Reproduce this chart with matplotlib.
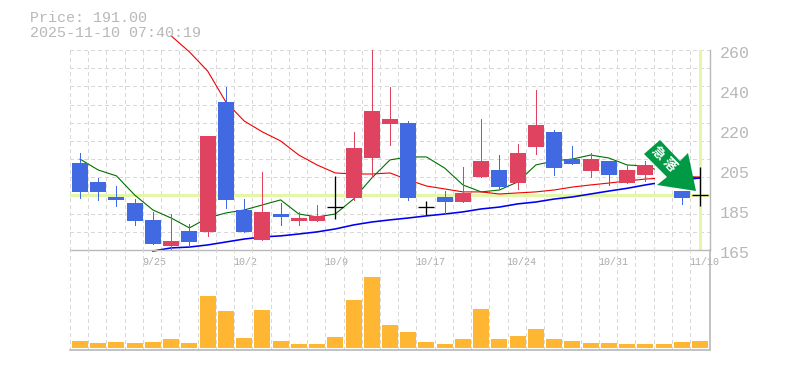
import numpy as np
import matplotlib
matplotlib.use('Agg')
import matplotlib.pyplot as plt
from matplotlib.patches import Polygon

# ローソク足 (始値/終値の上端・下端, 高値, 安値, 色)
body_top = [206.3, 197.3, 190.2, 187.3, 179.3, 169.3, 174.0, 219.2, 235.3, 184.0, 183.1, 182.1,
            180.2, 181.2, 185.4, 213.5, 231.0, 227.2, 225.3, 185.4, 190.2, 192.1, 207.3, 203.0,
            211.1, 224.4, 221.0, 208.2, 208.2, 207.3, 203.0, 205.4, 202.0, 193.0, 191.1]
body_bot = [192.6, 192.6, 188.8, 178.8, 167.9, 166.9, 168.8, 173.6, 188.8, 173.6, 169.8, 180.7,
            178.8, 178.8, 185.4, 189.7, 208.7, 224.9, 189.7, 185.4, 187.8, 187.8, 199.7, 194.9,
            196.8, 213.9, 203.9, 205.9, 202.5, 200.6, 196.8, 200.6, 198.0, 189.7, 191.1]
high = [211.1, 199.2, 195.4, 189.2, 183.1, 182.1, 177.4, 219.2, 242.4, 189.2, 202.0, 187.3,
        183.1, 186.4, 200.2, 221.0, 260.0, 242.4, 226.3, 188.3, 193.0, 204.4, 227.2, 210.1,
        215.4, 241.0, 222.0, 214.4, 211.1, 207.3, 205.4, 207.3, 202.0, 193.0, 204.4]
low = [189.7, 188.8, 185.9, 176.9, 167.9, 165.0, 166.9, 171.7, 185.0, 173.6, 169.8, 176.9,
       176.9, 178.8, 179.7, 188.8, 199.7, 214.9, 188.8, 181.6, 182.6, 187.8, 199.7, 194.0,
       194.0, 210.6, 200.6, 205.9, 199.7, 195.9, 196.8, 197.8, 198.0, 186.9, 185.9]
kind = list('bbbbbrbrbbrbrrkrrrbkbrrbrrbbrbrrbbk')

# 移動平均
ma_green = [208.2, 203.0, 200.2, 191.1, 184.0, 180.2, 175.5, 180.2, 182.6, 184.0, 186.4, 188.8,
            182.1, 180.7, 182.1, 189.2, 199.2, 207.8, 209.2, 209.2, 203.9, 195.9, 192.6, 193.5,
            197.3, 205.4, 207.3, 208.2, 210.1, 208.7, 205.4, 204.9, 202.0, 200.2, 199.2]
ma_red = [266.7, 259.1, 250.0, 235.3, 226.3, 221.1, 216.8, 210.1, 205.4, 201.6, 201.1, 201.1,
          201.6, 198.3, 195.4, 194.0, 192.6, 192.6, 191.6, 192.1, 192.6, 193.5, 194.9, 195.9,
          196.8, 197.8, 198.7, 199.2, 199.7, 199.7]
ma_blue = [164.5, 166.0, 166.4, 167.4, 168.8, 170.2, 171.2, 171.7, 172.6, 173.6, 175.0, 176.9,
           178.3, 179.3, 180.2, 181.2, 182.1, 183.1, 184.5, 185.4, 186.9, 187.8, 189.2, 190.2,
           191.6, 193.0, 194.3, 195.9, 197.3, 198.3, 199.2]

volume = [7, 5, 6, 5, 6, 9, 5, 52, 37, 10, 38, 7, 4, 4, 11, 48, 71, 23,
          16, 6, 4, 9, 39, 9, 12, 19, 9, 7, 5, 5, 4, 4, 4, 6, 7]

price_now = 191.0
y_ticks = [165, 184, 203, 222, 241, 260]
y_labels = ['165', '185', '205', '220', '240', '260']
date_pos = [4, 9, 14, 19, 24, 29, 34]
date_labels = ['9/25', '10/2', '10/9', '10/17', '10/24', '10/31', '11/10']

W, H = 785, 370
GRAY = '#b8b8b8'
GRID = '#d8d8d8'
colors = {'b': '#4169e1', 'r': '#e0435f', 'k': '#000000'}
step = (700 - 80) / 34
xlim = (-10 / step, 34 + 10 / step)
edges = np.arange(-10 / step, 34.1, 1)
grid_style = dict(color=GRID, lw=0.72, linestyle=(0, (3, 3)), antialiased=False)


def axes_px(left, top, right, bottom):
    return [left / W, 1 - bottom / H, (right - left) / W, (bottom - top) / H]


def fig_px(points):
    return [(x / W, 1 - y / H) for x, y in points]


plt.rcParams['font.family'] = ['Liberation Mono', 'DejaVu Sans Mono']
fig = plt.figure(figsize=(W / 100, H / 100), dpi=100, facecolor='white')
ax = fig.add_axes(axes_px(70, 50, 710, 250))
ax_v = fig.add_axes(axes_px(70, 250, 710, 350))

# 価格チャート
ax.set_xlim(xlim)
ax.set_ylim(165, 260)
ax.set_xticks(edges)
ax.set_yticks(np.linspace(165, 260, 12))
ax.tick_params(length=0, labelleft=False, labelbottom=False)
ax.grid(True, **grid_style)
ax.set_axisbelow(True)
for s in ['top', 'left']:
    ax.spines[s].set_visible(False)
for s in ['right', 'bottom']:
    ax.spines[s].set_color(GRAY)
    ax.spines[s].set_linewidth(1.0)

ax.axhline(price_now, color='#e4f7a8', lw=2.2, zorder=1.5)
ax.axvline(34, color='#e4f7a8', lw=2.2, zorder=1.5)

ax.plot(range(35), ma_green, color='#007000', lw=0.8, zorder=2, clip_on=False)
ax.plot(range(5, 35), ma_red, color='#f00000', lw=0.8, zorder=2.1, clip_on=False)
ax.plot(range(4, 35), ma_blue, color='#0000f0', lw=1.15, zorder=2.2, clip_on=False)

for i in range(35):
    c = colors[kind[i]]
    if kind[i] == 'k':
        ax.vlines(i, low[i], high[i], color=c, lw=0.95, zorder=3)
        ax.hlines(body_top[i], i - 8 / step, i + 8 / step, color=c, lw=0.95, zorder=3)
    else:
        ax.vlines(i, low[i], high[i], color=c, lw=0.72, zorder=3, antialiased=False)
        ax.bar(i, body_top[i] - body_bot[i], 16 / step, bottom=body_bot[i], color=c,
               lw=0, zorder=3, antialiased=False)

for v, lab in zip(y_ticks, y_labels):
    ax.annotate(lab, xy=(1, v), xycoords=ax.get_yaxis_transform(), xytext=(10, -3),
                textcoords='offset pixels', va='center', ha='left', fontsize=12, color=GRAY,
                annotation_clip=False)
for p, lab in zip(date_pos, date_labels):
    ax.annotate(lab, xy=(p, 165), xytext=(-11, -12), textcoords='offset pixels', va='center',
                ha='left', fontsize=7.2, color='#aaaaaa', annotation_clip=False, zorder=6)

# 出来高
ax_v.set_xlim(xlim)
ax_v.set_ylim(-2, 98)
ax_v.set_xticks(edges)
ax_v.set_yticks([])
ax_v.tick_params(length=0, labelbottom=False)
ax_v.grid(True, axis='x', **grid_style)
ax_v.set_axisbelow(True)
ax_v.patch.set_alpha(0)
for s in ['top', 'left']:
    ax_v.spines[s].set_visible(False)
for s in ['right', 'bottom']:
    ax_v.spines[s].set_color(GRAY)
    ax_v.spines[s].set_linewidth(1.2)
ax_v.bar(range(35), volume, 16 / step, color='#ffb733', lw=0, zorder=3, antialiased=False)

# 左上の文字
fig.text(30 / W, 1 - 18 / H, 'Price: 191.00', fontsize=10.8, color=GRAY, va='center')
fig.text(30 / W, 1 - 33 / H, '2025-11-10 07:40:19', fontsize=10.8, color=GRAY, va='center')

# シグナルの矢印 (下に白い余白)
halo = [(655, 160), (672, 160), (672, 186), (655, 186)]
arrow = [(660, 140), (644, 154), (667, 177), (657, 185), (696, 191), (688, 153), (680, 161)]
fig.add_artist(Polygon(fig_px(halo), closed=True, color='white', lw=0,
                       transform=fig.transFigure, zorder=7))
fig.add_artist(Polygon(fig_px(arrow), closed=True, color='#009944', lw=0,
                       transform=fig.transFigure, zorder=8))
fig.text(664 / W, 1 - 158.5 / H, '急 落', family=['Noto Sans CJK JP', 'DejaVu Sans'], fontsize=9.5,
         fontweight='bold', color='white', rotation=-45, rotation_mode='anchor',
         ha='center', va='center', zorder=9)

fig.savefig('out.png', dpi=100, facecolor='white')
